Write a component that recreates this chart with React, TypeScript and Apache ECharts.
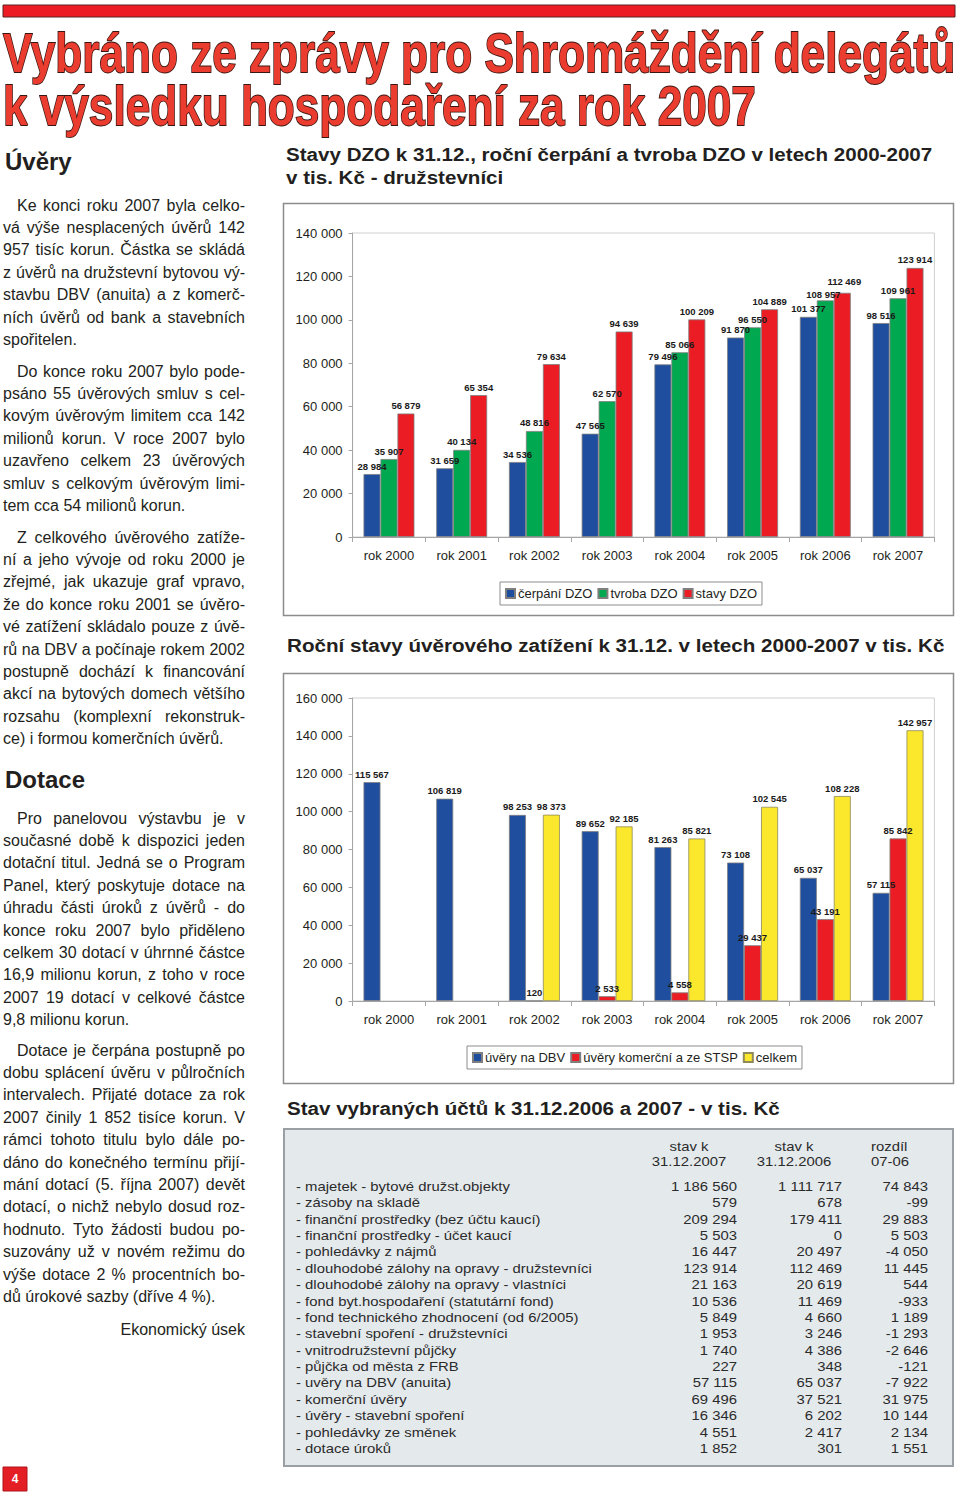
import React, { useEffect, useRef } from "react";
import * as echarts from "echarts";

// ---------- DATA ----------
const years = ["rok 2000", "rok 2001", "rok 2002", "rok 2003", "rok 2004", "rok 2005", "rok 2006", "rok 2007"];

const dzoCerpani = [28984, 31659, 34536, 47565, 79496, 91870, 101377, 98516];
const dzoTvroba = [35907, 40134, 48816, 62570, 85066, 96550, 108957, 109961];
const dzoStavy = [56879, 65354, 79634, 94639, 100209, 104889, 112469, 123914];

const uveryDBV = [115567, 106819, 98253, 89652, 81263, 73108, 65037, 57115];
const uveryKomercni = [null, null, 120, 2533, 4558, 29437, 43191, 85842];
const uveryCelkem = [null, null, 98373, 92185, 85821, 102545, 108228, 142957];

const tableLabels = [
  "- majetek - bytové družst.objekty",
  "- zásoby na skladě",
  "- finanční prostředky (bez účtu kaucí)",
  "- finanční prostředky - účet kaucí",
  "- pohledávky z nájmů",
  "- dlouhodobé zálohy na opravy - družstevníci",
  "- dlouhodobé zálohy na opravy - vlastníci",
  "- fond byt.hospodaření (statutární fond)",
  "- fond technického zhodnocení (od 6/2005)",
  "- stavební spoření - družstevníci",
  "- vnitrodružstevní půjčky",
  "- půjčka od města z FRB",
  "- uvěry na DBV (anuita)",
  "- komerční úvěry",
  "- úvěry - stavební spoření",
  "- pohledávky ze směnek",
  "- dotace úroků",
];
const table2007 = [1186560, 579, 209294, 5503, 16447, 123914, 21163, 10536, 5849, 1953, 1740, 227, 57115, 69496, 16346, 4551, 1852];
const table2006 = [1111717, 678, 179411, 0, 20497, 112469, 20619, 11469, 4660, 3246, 4386, 348, 65037, 37521, 6202, 2417, 301];
const tableDiff = [74843, -99, 29883, 5503, -4050, 11445, 544, -933, 1189, -1293, -2646, -121, -7922, 31975, 10144, 2134, 1551];

const titleLines = ["Vybráno ze zprávy pro Shromáždění delegátů", "k výsledku hospodaření za rok 2007"];
const para1 = ["Ke konci roku 2007 byla celko-", "vá výše nesplacených úvěrů 142", "957 tisíc korun. Částka se skládá", "z úvěrů na družstevní bytovou vý-", "stavbu DBV (anuita) a z komerč-", "ních úvěrů od bank a stavebních", "spořitelen."];
const para2 = ["Do konce roku 2007 bylo pode-", "psáno 55 úvěrových smluv s cel-", "kovým úvěrovým limitem cca 142", "milionů korun. V roce 2007 bylo", "uzavřeno celkem 23 úvěrových", "smluv s celkovým úvěrovým limi-", "tem cca 54 milionů korun."];
const para3 = ["Z celkového úvěrového zatíže-", "ní a jeho vývoje od roku 2000 je", "zřejmé, jak ukazuje graf vpravo,", "že do konce roku 2001 se úvěro-", "vé zatížení skládalo pouze z úvě-", "rů na DBV a počínaje rokem 2002", "postupně dochází k financování", "akcí na bytových domech většího", "rozsahu (komplexní rekonstruk-", "ce) i formou komerčních úvěrů."];
const para4 = ["Pro panelovou výstavbu je v", "současné době k dispozici jeden", "dotační titul. Jedná se o Program", "Panel, který poskytuje dotace na", "úhradu části úroků z úvěrů - do", "konce roku 2007 bylo přiděleno", "celkem 30 dotací v úhrnné částce", "16,9 milionu korun, z toho v roce", "2007 19 dotací v celkové částce", "9,8 milionu korun."];
const para5 = ["Dotace je čerpána postupně po", "dobu splácení úvěru v půlročních", "intervalech. Přijaté dotace za rok", "2007 činily 1 852 tisíce korun. V", "rámci tohoto titulu bylo dále po-", "dáno do konečného termínu přijí-", "mání dotací (5. října 2007) devět", "dotací, o nichž nebylo dosud roz-", "hodnuto. Tyto žádosti budou po-", "suzovány už v novém režimu do", "výše dotace 2 % procentních bo-", "dů úrokové sazby (dříve 4 %)."];

// ---------- HELPERS ----------
const SANS = "'Liberation Sans', Arial, sans-serif";
const NARROW = "'Liberation Sans Narrow', 'Liberation Sans', Arial, sans-serif";
const fmt = (v: number | null) => {
  if (v === null || v === undefined) return "";
  const s = Math.abs(v).toString().replace(/\B(?=(\d{3})+(?!\d))/g, " ");
  return (v < 0 ? "-" : "") + s;
};

let mctx: CanvasRenderingContext2D | null = null;
const measure = (text: string, size: number, weight: string, family: string) => {
  if (!mctx) mctx = document.createElement("canvas").getContext("2d");
  mctx!.font = `${weight} ${size}px ${family}`;
  return mctx!.measureText(text).width;
};
const hasFont = (name: string) => {
  const a = measure("abcdefghijklmnopqrstuvw", 40, "normal", "monospace");
  const b = measure("abcdefghijklmnopqrstuvw", 40, "normal", `'${name}', monospace`);
  return Math.abs(a - b) > 0.5;
};

const txt = (text: string, x: number, y: number, o: any = {}) => ({
  type: "text",
  x,
  y,
  scaleX: o.scaleX ?? 1,
  z: o.z ?? 20,
  silent: true,
  style: {
    text,
    fill: o.color ?? "#231f20",
    fontSize: o.size ?? 16,
    fontWeight: o.weight ?? "normal",
    fontFamily: o.family ?? SANS,
    align: o.align ?? "left",
    textAlign: o.align ?? "left",
    verticalAlign: "middle",
    textVerticalAlign: "middle",
    stroke: o.stroke,
    lineWidth: o.lineWidth ?? 0,
  },
});

function paragraph(lines: string[], yStart: number, out: any[]) {
  const left = 3, right = 245, indent = 17, lh = 22.4, size = 16;
  lines.forEach((line, i) => {
    const x0 = i === 0 ? indent : left;
    const y = yStart + i * lh;
    const last = i === lines.length - 1;
    if (last) {
      out.push(txt(line, x0, y, { size }));
      return;
    }
    const words = line.split(" ");
    const widths = words.map((w) => measure(w, size, "normal", SANS));
    const total = widths.reduce((a, b) => a + b, 0);
    const gap = words.length > 1 ? (right - x0 - total) / (words.length - 1) : 0;
    let x = x0;
    words.forEach((w, k) => {
      out.push(txt(w, x, y, { size }));
      x += widths[k] + gap;
    });
  });
}

function buildOption() {
  const narrow = hasFont("Liberation Sans Narrow");
  const labelFamily = narrow ? NARROW : SANS;
  const labelSize = narrow ? 10 : 9.5;
  const titleFamily = narrow ? NARROW : SANS;

  const g: any[] = [];
  // top red bar
  g.push({ type: "rect", shape: { x: 3, y: 5, width: 952, height: 12 }, style: { fill: "#ed1c24", stroke: "#5b2320", lineWidth: 1 }, z: 1 });
  // big title
  const tSize = 56;
  const w1 = measure(titleLines[0], tSize, "bold", titleFamily);
  const tScale = 952 / w1;
  g.push(txt(titleLines[0], 3, 53, { size: tSize, weight: "bold", family: titleFamily, scaleX: tScale, color: "#ea3d2f", stroke: "#3a1612", lineWidth: 1.8 }));
  g.push(txt(titleLines[1], 3, 106, { size: tSize, weight: "bold", family: titleFamily, scaleX: tScale, color: "#ea3d2f", stroke: "#3a1612", lineWidth: 1.8 }));

  // left column
  g.push(txt("Úvěry", 5, 161, { size: 24, weight: "bold" }));
  paragraph(para1, 205, g);
  paragraph(para2, 371, g);
  paragraph(para3, 537, g);
  g.push(txt("Dotace", 5, 779, { size: 24, weight: "bold" }));
  paragraph(para4, 818, g);
  paragraph(para5, 1050, g);
  g.push(txt("Ekonomický úsek", 245, 1329, { size: 16, align: "right" }));
  // page number
  g.push({ type: "rect", shape: { x: 3, y: 1467, width: 24, height: 24 }, style: { fill: "#e31e24", stroke: "#b0141a", lineWidth: 1 }, z: 1 });
  g.push(txt("4", 15, 1479, { size: 12, weight: "bold", color: "#ffffff", align: "center" }));

  // chart titles (fit to width)
  const ct = (text: string, x: number, y: number, target: number | null) => {
    const s = 19;
    const sc = target ? target / measure(text, s, "bold", SANS) : 1;
    g.push(txt(text, x, y, { size: s, weight: "bold", scaleX: sc, color: "#231f20" }));
    return sc;
  };
  const sc1 = ct("Stavy DZO k 31.12., roční čerpání a tvroba DZO v letech 2000-2007", 286, 154, 647);
  g.push(txt("v tis. Kč - družstevníci", 286, 177, { size: 19, weight: "bold", scaleX: sc1 }));
  ct("Roční stavy úvěrového zatížení k 31.12. v letech 2000-2007 v tis. Kč", 287, 645, 658);
  ct("Stav vybraných účtů k 31.12.2006 a 2007 - v tis. Kč", 287, 1108, 493);

  // chart frames
  g.push({ type: "rect", shape: { x: 283.5, y: 203.5, width: 670, height: 412 }, style: { fill: "none", stroke: "#8c8c8c", lineWidth: 1.5 }, z: 1 });
  g.push({ type: "rect", shape: { x: 283.5, y: 673.5, width: 670, height: 410 }, style: { fill: "none", stroke: "#8c8c8c", lineWidth: 1.5 }, z: 1 });

  // table
  g.push({ type: "rect", shape: { x: 284, y: 1129, width: 669, height: 337 }, style: { fill: "#e4e9ec", stroke: "#9a9fa3", lineWidth: 2 }, z: 1 });
  const tS = 12, tX = 1.24, tc = "#2b2b2b";
  g.push(txt("stav k", 689, 1147, { size: tS, scaleX: tX, align: "center", color: tc }));
  g.push(txt("31.12.2007", 689, 1162, { size: tS, scaleX: tX, align: "center", color: tc }));
  g.push(txt("stav k", 794, 1147, { size: tS, scaleX: tX, align: "center", color: tc }));
  g.push(txt("31.12.2006", 794, 1162, { size: tS, scaleX: tX, align: "center", color: tc }));
  g.push(txt("rozdíl", 871, 1147, { size: tS, scaleX: tX, color: tc }));
  g.push(txt("07-06", 871, 1162, { size: tS, scaleX: tX, color: tc }));
  tableLabels.forEach((lab, i) => {
    const y = 1187 + i * 16.37;
    g.push(txt(lab, 296, y, { size: tS, scaleX: tX, color: tc }));
    g.push(txt(fmt(table2007[i]), 737, y, { size: tS, scaleX: tX, align: "right", color: tc }));
    g.push(txt(fmt(table2006[i]), 842, y, { size: tS, scaleX: tX, align: "right", color: tc }));
    g.push(txt(fmt(tableDiff[i]), 928, y, { size: tS, scaleX: tX, align: "right", color: tc }));
  });

  const axisColor = "#a6a6a6";
  const xAxisCfg = (gi: number) => ({
    type: "category",
    gridIndex: gi,
    data: years,
    axisLine: { show: true, lineStyle: { color: axisColor } },
    axisTick: { show: true, length: 5, lineStyle: { color: axisColor } },
    axisLabel: { color: "#231f20", fontSize: 13, margin: 12, fontFamily: SANS },
  });
  const yAxisCfg = (gi: number, max: number) => ({
    type: "value",
    gridIndex: gi,
    min: 0,
    max,
    interval: 20000,
    axisLine: { show: true, lineStyle: { color: axisColor } },
    axisTick: { show: true, length: 4, lineStyle: { color: axisColor } },
    splitLine: { show: false },
    axisLabel: { color: "#231f20", fontSize: 13, margin: 10, fontFamily: SANS, formatter: (v: number) => fmt(v) },
  });
  // label nudges to keep close labels readable (index -> offset)
  const bar = (name: string, values: any[], color: string, gi: number, border = "#7f7f7f", nudge: Record<number, number[]> = {}) => ({
    type: "bar",
    name,
    data: values.map((v, i) => (nudge[i] ? { value: v, label: { offset: nudge[i] } } : v)),
    xAxisIndex: gi,
    yAxisIndex: gi,
    barGap: "0%",
    barCategoryGap: "30%",
    itemStyle: { color, borderColor: border, borderWidth: 0.8 },
    label: {
      show: true,
      position: "top",
      distance: 3,
      fontSize: labelSize,
      fontWeight: "bold",
      fontFamily: labelFamily,
      color: "#1a1a1a",
      formatter: (p: any) => fmt(p.value),
    },
  });
  const legendCfg = (names: string[], left: number, top: number) => ({
    data: names,
    left,
    top,
    orient: "horizontal",
    icon: "rect",
    itemWidth: 9,
    itemHeight: 9,
    itemGap: 5,
    padding: [5, 5],
    borderColor: "#8c8c8c",
    borderWidth: 1,
    backgroundColor: "#ffffff",
    textStyle: { fontSize: 13, color: "#231f20", fontFamily: SANS, padding: [0, 0, 0, -2] },
  });

  const BLUE = "#1f4e9f", GREEN = "#00a84f", RED = "#ec1c24", YELLOW = "#fbe72b";

  return {
    animation: false,
    backgroundColor: "#ffffff",
    textStyle: { fontFamily: SANS },
    grid: [
      { left: 352.6, width: 581.8, top: 233, height: 304, show: true, borderColor: "#cfcfcf", borderWidth: 1, backgroundColor: "transparent" },
      { left: 352.6, width: 581.8, top: 698, height: 303, show: true, borderColor: "#cfcfcf", borderWidth: 1, backgroundColor: "transparent" },
    ],
    xAxis: [xAxisCfg(0), xAxisCfg(1)],
    yAxis: [yAxisCfg(0, 140000), yAxisCfg(1, 160000)],
    legend: [
      legendCfg(["čerpání DZO", "tvroba DZO", "stavy DZO"], 500, 582),
      legendCfg(["úvěry na DBV", "úvěry komerční a ze STSP", "celkem"], 467, 1046),
    ],
    series: [
      bar("čerpání DZO", dzoCerpani, BLUE, 0),
      bar("tvroba DZO", dzoTvroba, GREEN, 0, "#7f7f7f", { 6: [-2, 2] }),
      bar("stavy DZO", dzoStavy, RED, 0, "#7f7f7f", { 6: [2, -3] }),
      bar("úvěry na DBV", uveryDBV, BLUE, 1),
      bar("úvěry komerční a ze STSP", uveryKomercni, RED, 1),
      bar("celkem", uveryCelkem, YELLOW, 1, "#8f8a5c"),
    ],
    graphic: { elements: g },
  };
}

export default function App() {
  const ref = useRef<HTMLDivElement>(null);
  useEffect(() => {
    const chart = echarts.init(ref.current!, null, { renderer: "svg", width: 960, height: 1497 });
    chart.setOption(buildOption() as any);
    return () => chart.dispose();
  }, []);
  return <div ref={ref} style={{ position: "absolute", left: 0, top: 0, width: 960, height: 1497, background: "#fff" }} />;
}
